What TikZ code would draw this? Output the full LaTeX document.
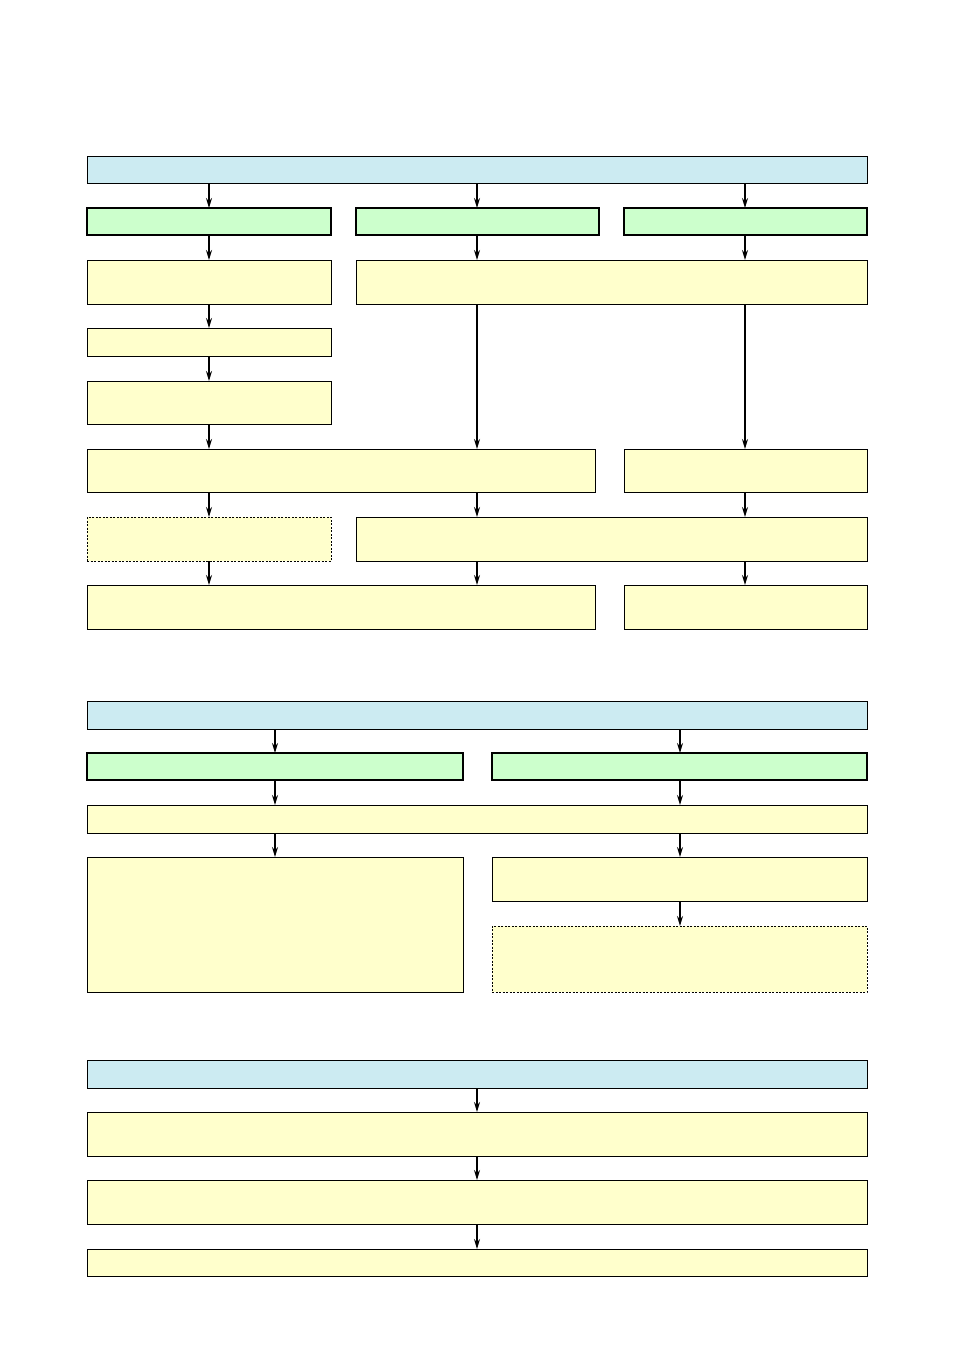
\documentclass[tikz,border=0pt]{standalone}
\usepackage{tikz}
\usetikzlibrary{arrows.meta}
\definecolor{FlowBlue}{RGB}{204,235,242}
\definecolor{FlowGreen}{RGB}{204,255,204}
\definecolor{FlowYellow}{RGB}{255,255,204}
\tikzset{
  flow/box/.style={
    draw=black,
    line width=1pt,
    fill=FlowYellow,
    inner sep=0pt,
    outer sep=0pt
  },
  flow/head/.style={flow/box, fill=FlowBlue},
  flow/stage/.style={flow/box, fill=FlowGreen, line width=1.3pt},
  flow/option/.style={flow/box, dash pattern=on 2pt off 1.5pt},
  flow/arrow/.style={-{Stealth[length=10pt,width=6pt]}, line width=1.4pt}
}
\begin{document}
\begin{tikzpicture}[x=1pt,y=-1pt]
  \useasboundingbox[fill=white] (0,0) rectangle (954,1350);
  % columns of the connectors
  \coordinate (c1) at (209,0);
  \coordinate (c2) at (477,0);
  \coordinate (c3) at (745,0);
  \coordinate (d1) at (275,0);
  \coordinate (d2) at (680,0);
  % boxes: name/style/left/top/right/bottom
  \foreach \nm/\st/\xa/\ya/\xb/\yb in {
    H1/head/87/156/867/183,
    G1a/stage/87/208/331/235, G1b/stage/356/208/599/235, G1c/stage/624/208/867/235,
    Y1/box/87/260/331/304, Y2/box/356/260/867/304,
    Y3/box/87/328/331/356,
    Y4/box/87/381/331/424,
    Y5/box/87/449/595/492, Y6/box/624/449/867/492,
    D1/option/87/517/331/561, Y7/box/356/517/867/561,
    Y8/box/87/585/595/629, Y9/box/624/585/867/629,
    H2/head/87/701/867/729,
    G2a/stage/87/753/463/780, G2b/stage/492/753/867/780,
    Y10/box/87/805/867/833,
    Y11/box/87/857/463/992, Y12/box/492/857/867/901,
    D2/option/492/926/867/992,
    H3/head/87/1060/867/1088,
    Y13/box/87/1112/867/1156,
    Y14/box/87/1180/867/1224,
    Y15/box/87/1249/867/1276}
  {
    \pgfmathsetmacro{\boxw}{\xb-\xa}
    \pgfmathsetmacro{\boxh}{\yb-\ya}
    \node[flow/\st, minimum width=\boxw pt, minimum height=\boxh pt]
      (\nm) at ({(\xa+\xb)/2},{(\ya+\yb)/2}) {};
  }
  % connectors
  \foreach \a/\b/\c in {
    H1/G1a/c1, H1/G1b/c2, H1/G1c/c3,
    G1a/Y1/c1, G1b/Y2/c2, G1c/Y2/c3,
    Y1/Y3/c1, Y3/Y4/c1, Y4/Y5/c1, Y2/Y5/c2, Y2/Y6/c3,
    Y5/D1/c1, Y5/Y7/c2, Y6/Y7/c3,
    D1/Y8/c1, Y7/Y8/c2, Y7/Y9/c3,
    H2/G2a/d1, H2/G2b/d2, G2a/Y10/d1, G2b/Y10/d2,
    Y10/Y11/d1, Y10/Y12/d2, Y12/D2/d2,
    H3/Y13/c2, Y13/Y14/c2, Y14/Y15/c2}
  {\draw[flow/arrow] (\a.south -| \c) -- (\b.north -| \c);}
\end{tikzpicture}
\end{document}
